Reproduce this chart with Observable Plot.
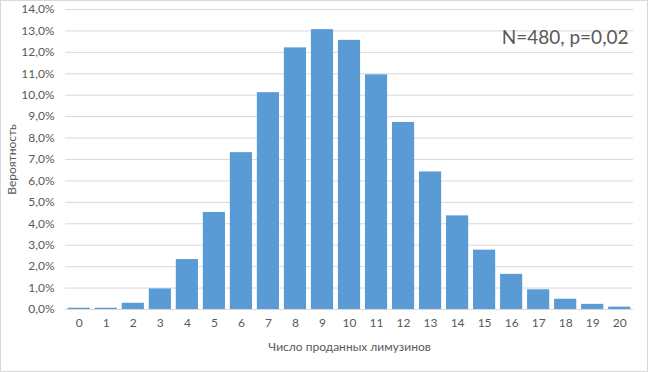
<!DOCTYPE html>
<html>
<head>
<meta charset="utf-8">
<script src="https://cdn.jsdelivr.net/npm/d3@7"></script>
<script src="https://cdn.jsdelivr.net/npm/@observablehq/plot@0.6"></script>
<style>
  body { margin: 0; background: #fff; }
  #wrap { position: relative; width: 648px; height: 372px; }
  #border { position: absolute; left: 0; top: 0; width: 648px; height: 372px; box-sizing: border-box; border: 1px solid #d9d9d9; pointer-events: none; }
  svg { display: block; }
</style>
</head>
<body>
<div id="wrap"><div id="border"></div></div>
<script>
const categories = ["0","1","2","3","4","5","6","7","8","9","10","11","12","13","14","15","16","17","18","19","20"];
const probabilities = [0.06, 0.06, 0.29, 0.96, 2.33, 4.53, 7.32, 10.12, 12.21, 13.06, 12.56, 10.95, 8.73, 6.42, 4.37, 2.77, 1.64, 0.92, 0.48, 0.24, 0.11];
const yTicks = [0,1,2,3,4,5,6,7,8,9,10,11,12,13,14];
const annotation = "N=480, p=0,02";
const xTitle = "Число проданных лимузинов";
const yTitle = "Вероятность";

const data = categories.map((c, i) => ({k: c, v: probabilities[i]}));
const fmt = d => d.toFixed(1).replace(".", ",") + "%";

const chart = Plot.plot({
  width: 648,
  height: 372,
  marginLeft: 65,
  marginRight: 15,
  marginTop: 9,
  marginBottom: 63,
  style: {fontFamily: "Lato, 'Liberation Sans', sans-serif", fontSize: "12px", color: "#595959", background: "transparent"},
  x: {domain: categories, paddingInner: 0.18, paddingOuter: 0.1, round: false},
  y: {domain: [0, 14]},
  marks: [
    Plot.ruleY(yTicks, {stroke: "#d9d9d9", strokeWidth: 1}),
    Plot.barY(data, {x: "k", y: "v", fill: "#5b9bd5"}),
    Plot.axisY(yTicks, {tickSize: 0, tickPadding: 11, tickFormat: fmt, label: yTitle, labelArrow: "none", labelAnchor: "center", labelOffset: 58, fill: "#595959"}),
    Plot.axisX({tickSize: 0, tickPadding: 9, label: xTitle, labelAnchor: "center", labelOffset: 41, fill: "#595959"}),
    Plot.text([annotation], {frameAnchor: "top-right", dx: -5, dy: 34, fontSize: 19, fill: "#595959", textAnchor: "end", lineAnchor: "bottom"})
  ]
});
document.getElementById("wrap").insertBefore(chart, document.getElementById("border"));
</script>
</body>
</html>
